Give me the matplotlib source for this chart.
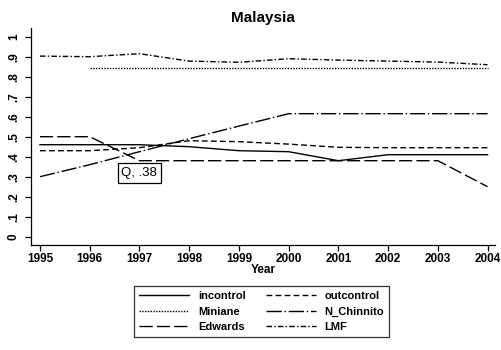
import numpy as np
import matplotlib
matplotlib.use("Agg")
import matplotlib.pyplot as plt

plt.rcParams['font.family'] = ['Liberation Sans', 'DejaVu Sans']

years = [1995, 1996, 1997, 1998, 1999, 2000, 2001, 2002, 2003, 2004]
incontrol = [0.46, 0.46, 0.46, 0.45, 0.43, 0.425, 0.38, 0.41, 0.41, 0.41]
outcontrol = [0.43, 0.43, 0.445, 0.48, 0.475, 0.463, 0.447, 0.445, 0.445, 0.445]
miniane = [np.nan, 0.845, 0.845, 0.845, 0.845, 0.845, 0.845, 0.845, 0.845, 0.845]
n_chinnito = [0.30, 0.36, 0.425, 0.49, 0.553, 0.615, 0.615, 0.615, 0.615, 0.615]
edwards = [0.50, 0.50, 0.38, 0.38, 0.38, 0.38, 0.38, 0.38, 0.38, 0.25]
lmf = [0.903, 0.90, 0.915, 0.878, 0.872, 0.89, 0.883, 0.878, 0.873, 0.86]

yticks = [0, .1, .2, .3, .4, .5, .6, .7, .8, .9, 1]
ytick_labels = ['0', '.1', '.2', '.3', '.4', '.5', '.6', '.7', '.8', '.9', '1']

fig = plt.figure(figsize=(5.01, 3.5), dpi=100)
ax = fig.add_axes([31 / 501, 1 - 245 / 350, (495 - 31) / 501, (245 - 28) / 350])

lw = 1.0
series = [
    ('incontrol', incontrol, '-'),
    ('outcontrol', outcontrol, (0, (4.2, 2.3))),
    ('Miniane', miniane, (0, (1.0, 1.0))),
    ('N_Chinnito', n_chinnito, (0, (11, 2, 1, 2))),
    ('Edwards', edwards, (0, (9.5, 3))),
    ('LMF', lmf, (0, (4, 1.6, 1, 1.6))),
]
lines = {}
for name, vals, ls in series:
    lines[name], = ax.plot(years, vals, color='black', lw=lw, linestyle=ls, label=name)

# value label under the Edwards point in 1997
ev = edwards[2]
ax.annotate("Q, " + ("%.2f" % ev).lstrip('0'), xy=(years[2], ev),
            xytext=(0, -4.5), textcoords='offset points', ha='center', va='top',
            fontsize=9.5,
            bbox=dict(boxstyle='square,pad=0.3', fc='white', ec='black', lw=0.9))

ax.set_xlim(1994.82, 2004.15)
ax.set_ylim(-0.0415, 1.0435)
ax.set_xticks(years)
ax.set_xticklabels([str(y) for y in years], fontsize=8.5, fontweight='bold')
ax.set_yticks(yticks)
ax.set_yticklabels(ytick_labels, fontsize=8.5, fontweight='bold', rotation=90, va='center')
ax.tick_params(axis='both', direction='out', length=4, width=0.9, color='black', pad=2)
ax.tick_params(axis='y', pad=4)

for s in ['top', 'right']:
    ax.spines[s].set_visible(False)
for s in ['left', 'bottom']:
    ax.spines[s].set_linewidth(0.9)

ax.set_xlabel('Year', fontsize=8.5, fontweight='bold', labelpad=-1)
ax.set_title('Malaysia', fontsize=11, fontweight='bold', pad=4)

# legend filled row by row: two entries per row
order = ['incontrol', 'Miniane', 'Edwards', 'outcontrol', 'N_Chinnito', 'LMF']
leg = fig.legend([lines[n] for n in order], order, ncol=2, loc='upper center',
                 bbox_to_anchor=(261.5 / 501, 1 - 286 / 350),
                 prop={'size': 8, 'weight': 'bold'},
                 frameon=True, fancybox=False, edgecolor='black',
                 handlelength=4.5, handletextpad=0.8, columnspacing=1.8,
                 labelspacing=0.5, borderpad=0.45, borderaxespad=0)
leg.get_frame().set_linewidth(0.9)

fig.savefig('out.png', dpi=100)
